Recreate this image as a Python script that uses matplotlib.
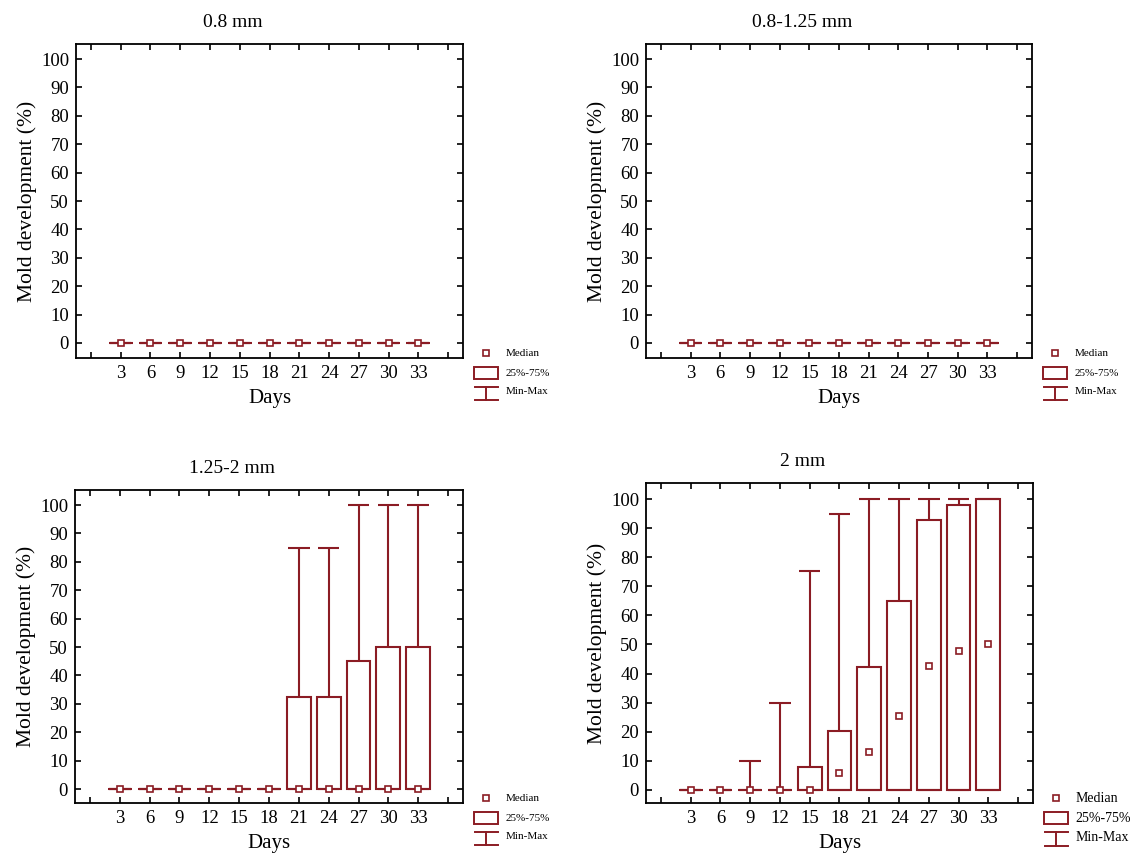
import numpy as np
import matplotlib
matplotlib.use('Agg')
import matplotlib.pyplot as plt
from matplotlib.patches import Rectangle

plt.rcParams['font.family'] = ['Liberation Serif', 'DejaVu Serif']

RED = '#8b1c24'

days = [3, 6, 9, 12, 15, 18, 21, 24, 27, 30, 33]

# 0.8 mm
a_min = [0, 0, 0, 0, 0, 0, 0, 0, 0, 0, 0]
a_q1 = [0, 0, 0, 0, 0, 0, 0, 0, 0, 0, 0]
a_med = [0, 0, 0, 0, 0, 0, 0, 0, 0, 0, 0]
a_q3 = [0, 0, 0, 0, 0, 0, 0, 0, 0, 0, 0]
a_max = [0, 0, 0, 0, 0, 0, 0, 0, 0, 0, 0]

# 0.8-1.25 mm
b_min = [0, 0, 0, 0, 0, 0, 0, 0, 0, 0, 0]
b_q1 = [0, 0, 0, 0, 0, 0, 0, 0, 0, 0, 0]
b_med = [0, 0, 0, 0, 0, 0, 0, 0, 0, 0, 0]
b_q3 = [0, 0, 0, 0, 0, 0, 0, 0, 0, 0, 0]
b_max = [0, 0, 0, 0, 0, 0, 0, 0, 0, 0, 0]

# 1.25-2 mm
c_min = [0, 0, 0, 0, 0, 0, 0, 0, 0, 0, 0]
c_q1 = [0, 0, 0, 0, 0, 0, 0, 0, 0, 0, 0]
c_med = [0, 0, 0, 0, 0, 0, 0, 0, 0, 0, 0]
c_q3 = [0, 0, 0, 0, 0, 0, 32.5, 32.5, 45, 50, 50]
c_max = [0, 0, 0, 0, 0, 0, 85, 85, 100, 100, 100]

# 2 mm
d_min = [0, 0, 0, 0, 0, 0, 0, 0, 0, 0, 0]
d_q1 = [0, 0, 0, 0, 0, 0, 0, 0, 0, 0, 0]
d_med = [0, 0, 0, 0, 0, 5.7, 13, 25.3, 42.7, 47.7, 50]
d_q3 = [0, 0, 0, 0, 7.8, 20.2, 42.4, 65, 92.8, 97.8, 100]
d_max = [0, 0, 10, 30, 75.4, 95, 100, 100, 100, 100, 100]

titles = ['0.8 mm', '0.8-1.25 mm', '1.25-2 mm', '2 mm']

W, H = 1143, 863


def px_axes(left, top, right, bottom):
    return [left / W, 1 - bottom / H, (right - left) / W, (bottom - top) / H]


def draw_panel(ax, title, mins, q1, med, q3, maxs, ylim, leg_fs):
    x = np.arange(1, len(days) + 1)
    mins, q1, med, q3, maxs = map(np.asarray, (mins, q1, med, q3, maxs))
    bw, cw = 0.8, 0.72
    ax.bar(x, q3 - q1, bottom=q1, width=bw, fill=False, edgecolor=RED,
           linewidth=1.5, zorder=2)
    ax.vlines(x, q3, maxs, color=RED, lw=1.5, zorder=2)
    ax.vlines(x, mins, q1, color=RED, lw=1.5, zorder=2)
    ax.hlines(maxs, x - cw / 2, x + cw / 2, color=RED, lw=1.5, zorder=2)
    ax.hlines(mins, x - cw / 2, x + cw / 2, color=RED, lw=1.5, zorder=2)
    ax.plot(x, med, 's', ms=4, mfc='white', mec=RED, mew=1.2, zorder=3)

    ax.set_xlim(-0.5, len(days) + 1.5)
    ax.set_ylim(*ylim)
    ax.set_xticks(np.arange(0, len(days) + 2))
    ax.set_xticklabels([''] + [str(d) for d in days] + [''])
    ax.set_yticks(np.arange(0, 101, 10))
    ax.tick_params(direction='in', top=True, right=True, length=4.5,
                   width=1.2, labelsize=13.5, pad=5)
    for s in ax.spines.values():
        s.set_linewidth(1.3)
    ax.set_xlabel('Days', fontsize=15, labelpad=5)
    ax.set_ylabel('Mold development (%)', fontsize=15.5, labelpad=3)
    ax.text(0.405, 1.068, title, transform=ax.transAxes, ha='center',
            va='center', fontsize=14)

    # legend glyphs
    t = ax.transAxes
    ax.plot([1.06], [0.016], 's', ms=4, mfc='white', mec=RED, mew=1.2,
            transform=t, clip_on=False)
    ax.add_patch(Rectangle((1.028, -0.067), 0.063, 0.038, fill=False,
                           edgecolor=RED, lw=1.4, transform=t, clip_on=False))
    ax.plot([1.03, 1.09], [-0.092, -0.092], color=RED, lw=1.4, transform=t,
            clip_on=False)
    ax.plot([1.03, 1.09], [-0.133, -0.133], color=RED, lw=1.4, transform=t,
            clip_on=False)
    ax.plot([1.06, 1.06], [-0.092, -0.133], color=RED, lw=1.4, transform=t,
            clip_on=False)
    ax.text(1.11, 0.014, 'Median', transform=t, fontsize=leg_fs, va='center')
    ax.text(1.11, -0.048, '25%-75%', transform=t, fontsize=leg_fs, va='center')
    ax.text(1.11, -0.108, 'Min-Max', transform=t, fontsize=leg_fs, va='center')


fig = plt.figure(figsize=(W / 100, H / 100), dpi=100)
ax1 = fig.add_axes(px_axes(76, 44, 463, 358))
ax2 = fig.add_axes(px_axes(646, 44, 1032, 358))
ax3 = fig.add_axes(px_axes(75, 490, 463, 803))
ax4 = fig.add_axes(px_axes(646, 483, 1033, 803))

draw_panel(ax1, titles[0], a_min, a_q1, a_med, a_q3, a_max, (-5.3, 105.3), 8)
draw_panel(ax2, titles[1], b_min, b_q1, b_med, b_q3, b_max, (-5.3, 105.3), 8)
draw_panel(ax3, titles[2], c_min, c_q1, c_med, c_q3, c_max, (-4.9, 105.3), 8)
draw_panel(ax4, titles[3], d_min, d_q1, d_med, d_q3, d_max, (-4.5, 105.5), 10)

fig.savefig('out.png', dpi=100)
